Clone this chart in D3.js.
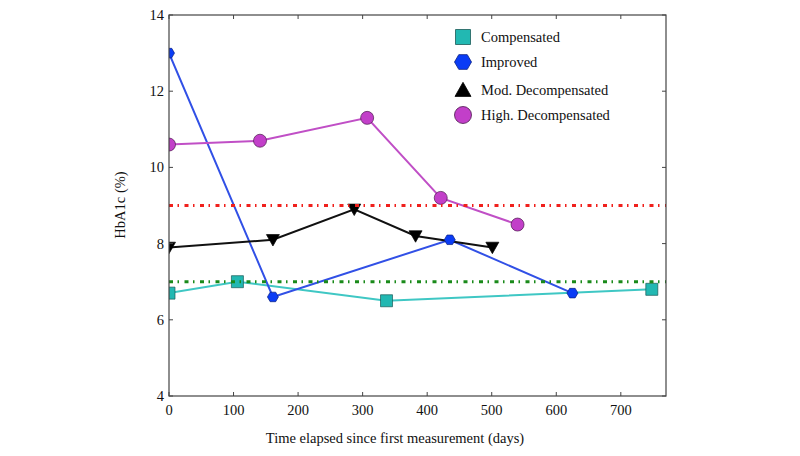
<!DOCTYPE html>
<html>
<head>
<meta charset="utf-8">
<script src="https://cdn.jsdelivr.net/npm/d3@7"></script>
<style>
  html, body { margin: 0; padding: 0; background: #fff; }
  svg { display: block; font-family: "Liberation Serif", "DejaVu Serif", serif; }
</style>
</head>
<body>
<svg id="chart" width="800" height="456"></svg>
<script>
// values
const compDays = [0, 106, 337, 748];
const compVals = [6.7, 7.0, 6.5, 6.8];
const impDays = [0, 161, 435, 625];
const impVals = [13.0, 6.6, 8.1, 6.7];
const modDays = [0, 161, 287, 382, 501];
const modVals = [7.9, 8.1, 8.9, 8.2, 7.9];
const highDays = [0, 141, 307, 421, 540];
const highVals = [10.6, 10.7, 11.3, 9.2, 8.5];
const thresholds = [9, 7];
const xTicks = [0, 100, 200, 300, 400, 500, 600, 700];
const yTicks = [4, 6, 8, 10, 12, 14];

const svg = d3.select("#chart");
const margin = { top: 15, right: 134, bottom: 60, left: 169 };
const width = 800, height = 456;
const innerWidth = width - margin.left - margin.right;
const innerHeight = height - margin.top - margin.bottom;

const x = d3.scaleLinear().domain([0, 770]).range([0, innerWidth]);
const y = d3.scaleLinear().domain([4, 14]).range([innerHeight, 0]);

const g = svg.append("g").attr("transform", `translate(${margin.left},${margin.top})`);

svg.append("defs").append("clipPath").attr("id", "clip")
  .append("rect").attr("width", innerWidth).attr("height", innerHeight);

const plot = g.append("g").attr("clip-path", "url(#clip)");

const hexPath = (r) => {
  const pts = d3.range(6).map(i => {
    const a = (Math.PI / 3) * i;
    return [r * Math.cos(a), r * Math.sin(a)];
  });
  return "M" + pts.map(p => p.join(",")).join("L") + "Z";
};

const series = [
  { name: "Compensated", days: compDays, vals: compVals, line: "#3fc7c4", fill: "#22b8b2", stroke: "#1a5a58",
    marker: (s) => d3.symbol(d3.symbolSquare, s * s)(), size: 12, legendSize: 15 },
  { name: "Improved", days: impDays, vals: impVals, line: "#3150e6", fill: "#0a3cf5", stroke: "#0a1f80",
    marker: (s) => hexPath(s / 2), size: 11, legendSize: 17 },
  { name: "Mod. Decompensated", days: modDays, vals: modVals, line: "#111", fill: "#000", stroke: "#000",
    marker: (s) => "M" + (-s / 2) + "," + (-s * 0.4) + "L" + (s / 2) + "," + (-s * 0.4) + "L0," + (s * 0.48) + "Z", size: 13,
    legendMarker: (s) => "M" + (-s / 2) + "," + (s * 0.4) + "L" + (s / 2) + "," + (s * 0.4) + "L0," + (-s * 0.48) + "Z", legendSize: 16 },
  { name: "High. Decompensated", days: highDays, vals: highVals, line: "#c04fc6", fill: "#c23fc9", stroke: "#4a1a4c",
    marker: (s) => d3.symbol(d3.symbolCircle, Math.PI * s * s / 4)(), size: 13, legendSize: 17 }
];

const line = d3.line().x(d => x(d[0])).y(d => y(d[1]));

series.forEach(s => {
  const pts = s.days.map((d, i) => [d, s.vals[i]]);
  plot.append("path").datum(pts)
    .attr("d", line).attr("fill", "none")
    .attr("stroke", s.line).attr("stroke-width", 2);
});

series.forEach(s => {
  const pts = s.days.map((d, i) => [d, s.vals[i]]);
  plot.selectAll(null).data(pts).join("path")
    .attr("transform", d => `translate(${x(d[0])},${y(d[1])})`)
    .attr("d", s.marker(s.size))
    .attr("fill", s.fill).attr("stroke", s.stroke).attr("stroke-width", 0.7);
});

// threshold lines drawn on top
plot.selectAll(".thr").data(thresholds).join("line")
  .attr("x1", 0).attr("x2", innerWidth)
  .attr("y1", d => y(d)).attr("y2", d => y(d))
  .attr("stroke", (d, i) => i === 0 ? "#f0201c" : "#1a8a1a")
  .attr("stroke-width", 3)
  .attr("stroke-dasharray", "4,4.5,1.5,5.5");

// frame and inward ticks on all sides
const axisColor = "#444";
g.append("rect").attr("width", innerWidth).attr("height", innerHeight)
  .attr("fill", "none").attr("stroke", axisColor).attr("stroke-width", 1.2);

const tickLen = 4;
xTicks.forEach(t => {
  g.append("line").attr("x1", x(t)).attr("x2", x(t)).attr("y1", innerHeight).attr("y2", innerHeight - tickLen).attr("stroke", axisColor);
  g.append("line").attr("x1", x(t)).attr("x2", x(t)).attr("y1", 0).attr("y2", tickLen).attr("stroke", axisColor);
});
yTicks.forEach(t => {
  g.append("line").attr("y1", y(t)).attr("y2", y(t)).attr("x1", 0).attr("x2", tickLen).attr("stroke", axisColor);
  g.append("line").attr("y1", y(t)).attr("y2", y(t)).attr("x1", innerWidth).attr("x2", innerWidth - tickLen).attr("stroke", axisColor);
});

g.selectAll(".xl").data(xTicks).join("text")
  .attr("x", d => x(d)).attr("y", innerHeight + 19)
  .attr("text-anchor", "middle").attr("font-size", 14.5).attr("fill", "#111")
  .text(d => d);

g.selectAll(".yl").data(yTicks).join("text")
  .attr("x", -5).attr("y", d => y(d) + 5)
  .attr("text-anchor", "end").attr("font-size", 14.5).attr("fill", "#111")
  .text(d => d);

svg.append("text")
  .attr("x", 395).attr("y", 443)
  .attr("text-anchor", "middle").attr("font-size", 14.5).attr("fill", "#111")
  .text("Time elapsed since first measurement (days)");

svg.append("text")
  .attr("transform", "translate(125,205) rotate(-90)")
  .attr("text-anchor", "middle").attr("font-size", 14.5).attr("fill", "#111")
  .text("HbA1c (%)");

// legend
const legendY = [37, 62, 90, 115];
const legend = svg.append("g").attr("transform", "translate(463,0)");
series.forEach((s, i) => {
  legend.append("path")
    .attr("transform", `translate(0,${legendY[i]})`)
    .attr("d", (s.legendMarker || s.marker)(s.legendSize))
    .attr("fill", s.fill).attr("stroke", s.stroke).attr("stroke-width", 0.8);
  legend.append("text")
    .attr("x", 18).attr("y", legendY[i] + 5)
    .attr("font-size", 14.5).attr("fill", "#111")
    .text(s.name);
});
</script>
</body>
</html>
